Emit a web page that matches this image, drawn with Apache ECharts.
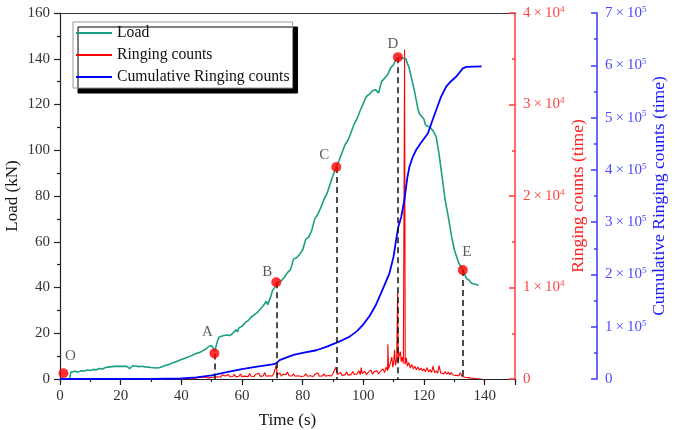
<!DOCTYPE html>
<html>
<head>
<meta charset="utf-8">
<script src="https://cdn.jsdelivr.net/npm/echarts@6/dist/echarts.min.js"></script>
<style>
html,body{margin:0;padding:0;background:#fff;}
#c{width:676px;height:430px;}
</style>
</head>
<body>
<div id="c"></div>
<script>
// ---------- DATA ----------
const loadTime = [3.2,3.6,4,5,6,7,8,9,10,11,12,13,14,15,16,16.5,17,18,19,20,21,22,23,23.5,24,25,26,27,28,29,30,31,32,33,34,35,36,37,38,39,40,41,42,43,44,45,46,47,47.5,48,49,49.5,50,50.5,51,51.6,52,52.5,53,54,55,56,57,58,58.5,59,60,61,62,62.5,63,64,65,66,67,68,68.5,69,69.5,70,71,71.5,72,73,74,74.5,75,76,76.5,77,78,79,80,80.5,81,82,83,84,85,86,87,88,89,90,91,92,93,94,95,96,97,98,99,100,101,102,103,104,105,106,107,108,109,110,110.5,111,112,113,114,114.5,115,116,117,118,118.5,119,120,120.5,121,122,123,124,125,126,127,128,129,130,131,131.5,132,132.8,133.5,134,135,135.5,136,136.5,137,138];
const loadKN = [0.5,3.0,3.2,3.4,3.0,3.6,3.5,3.9,3.7,4.2,4.0,4.6,4.4,5.0,5.2,4.6,5.4,5.5,5.6,5.5,5.6,5.5,4.6,5.4,5.8,5.7,5.4,5.6,5.3,5.2,5.0,4.9,4.8,5.0,5.6,6.0,6.4,7.0,7.4,8.0,8.5,9.0,9.5,10.0,10.6,11.2,11.6,12.3,11.8,13.0,14.2,13.6,14.6,13.5,12.2,12.8,17.0,18.4,18.0,19.0,19.2,19.0,20.0,21.5,20.6,22.4,23.0,24.5,25.5,25.0,27.0,28.0,29.0,30.5,32.0,34.0,32.5,32.3,36.0,38.5,40.5,42.0,41.8,43.0,44.5,44.3,46.5,47.8,47.5,52.5,53.0,54.5,56.5,56.5,61.0,62.0,65.0,70.0,72.0,75.0,78.5,81.0,85.0,89.0,92.5,95.5,99.0,102.5,104.5,108.0,111.5,114.0,117.5,120.5,123.5,124.5,126.0,126.5,125.0,130.0,131.5,133.0,136.0,137.5,139.0,140.2,140.5,140.3,140.0,138.0,136.5,131.0,125.0,118.0,116.0,115.5,113.5,111.0,110.5,110.0,108.5,106.0,98.0,88.0,78.0,71.0,63.0,56.5,52.5,50.5,49.5,47.6,45.5,44.0,43.0,42.0,42.6,41.5,41.2,41.0];

const ringTime = [0,40,42,43,44,44.5,45,45.5,46,46.5,47,47.5,48,48.5,49,49.5,50,50.5,51,51.5,52,52.5,53,53.5,54,54.5,55,55.5,56,56.5,57,57.5,58,58.5,59,59.5,60,60.5,61,61.5,62,62.5,63,63.5,64,64.5,65,65.5,66,66.5,67,67.5,68,68.5,69,69.5,70,70.5,71,71.3,71.6,72,72.5,73,73.5,74,74.5,75,75.5,76,76.5,77,77.5,78,78.5,79,79.5,80,80.5,81,81.5,82,82.5,83,83.5,84,84.5,85,85.5,86,86.5,87,87.5,88,88.5,89,89.5,90,90.5,91,91.4,92,92.5,93,93.5,94,94.5,95,95.5,96,96.5,97,97.5,98,98.5,99,99.3,99.6,100,100.5,101,101.5,102,102.5,103,103.5,104,104.5,105,105.5,106,106.5,107,107.5,108,108.1,108.3,108.8,109.4,109.7,110,110.3,110.6,111,111.3,111.5,111.8,112.2,112.5,112.8,113.2,113.6,113.8,114.2,114.5,115,115.5,116,116.5,117,117.5,118,118.5,119,119.5,120,120.5,121,121.5,122,122.5,123,123.5,124,124.5,125,125.5,126,126.5,127,127.5,128,128.5,129,129.5,130,130.5,131,131.5,132,132.5,133,133.5,134,134.5,135,135.5,136,137,138,139];
const ringCounts = [0,0,30,0,60,20,120,40,180,60,220,90,160,260,120,300,180,350,220,420,250,380,200,450,260,330,210,480,240,360,280,520,230,400,300,550,260,420,310,480,250,600,300,430,280,500,330,620,290,460,340,700,300,480,360,550,320,600,500,1550,450,380,650,300,520,380,480,760,350,500,320,580,300,450,350,520,280,440,330,560,300,480,350,420,280,520,400,650,300,480,340,560,310,460,380,520,330,600,450,1300,500,420,700,380,560,450,780,420,600,480,820,500,650,560,900,480,1250,600,520,850,480,700,560,1000,520,780,600,900,540,800,620,1100,700,1300,900,3800,1100,1600,2400,1300,1800,3200,1500,2200,9400,1800,2600,3000,1900,2400,1700,36000,1600,2300,1400,1800,1200,1600,1100,1400,1000,1300,950,1200,880,1100,800,1250,760,1000,700,1400,680,900,620,1450,650,850,560,800,520,760,480,700,440,620,400,560,360,700,300,250,200,180,150,120,100,80,50,20,0];

const cumTime = [0,30,40,45,50,55,60,65,70,71.3,72.4,75,77,80,84.5,88,91,93,95.5,98,99.8,102,104,105.3,107,108.6,110,110.8,111.5,112.5,113.6,114.5,115.2,116.3,117.4,119,121.3,122.5,124,125.5,127.3,129,130.6,132.8,134,139];
const cumCounts = [0,0,1000,3000,7000,13000,19000,23500,28000,30000,36000,42000,46000,50000,55000,62000,69000,74000,81000,92000,103000,120000,140000,157000,180000,202000,235000,266000,290000,310000,345000,385000,406000,425000,438000,452000,470000,490000,514000,538000,559000,570000,578000,594000,597000,598000];

const markerNames = ['O','A','B','C','D','E'];
const markerTime = [1.15,50.9,71.3,91.1,111.4,132.8];
const markerLoad = [2.5,11.2,42.3,92.7,140.7,47.6];

const xTicks = {min:0, max:150, interval:20};
const loadTicks = {min:0, max:160, interval:20};
const ringTicks = {min:0, max:40000, interval:10000};
const cumTicks = {min:0, max:700000, interval:100000};

// ---------- STYLE ----------
const FONT = 'Liberation Serif, Times New Roman, serif';
const labelOffsets = [[7,-17],[-7,-21],[-9,-10],[-12,-12],[-5,-13],[4,-18]];
const C_LOAD = '#1b9e83', C_RING = '#ff0000', C_CUM = '#0000ff';
const C_RAX = '#ff3b3b', C_BAX = '#3b3bff';

const zip = (a,b) => a.map((v,i)=>[v,b[i]]);

const chart = echarts.init(document.getElementById('c'), null, {renderer:'canvas'});

const supRich = (col) => ({
  b:{fontSize:15, fontFamily:FONT, color:col, lineHeight:16},
  s:{fontSize:9, fontFamily:FONT, color:col, verticalAlign:'top', lineHeight:16, padding:[0,0,10,0]}
});

const markerData = markerNames.map((n,i)=>({
  value:[markerTime[i], markerLoad[i]],
  name:n,
  label:{show:true, position:'inside', offset:labelOffsets[i], formatter:n,
         fontSize:15, fontFamily:FONT, color:'#333'}
}));

const dashData = markerNames.slice(1).map((n,k)=>{
  const i = k+1;
  return [{coord:[markerTime[i], markerLoad[i]]},{coord:[markerTime[i], 0]}];
});

const option = {
  animation:false,
  backgroundColor:'#fff',
  grid:{left:60, right:161, top:13, bottom:51, containLabel:false, outerBoundsMode:'none'},
  legend:{
    data:['Load','Ringing counts','Cumulative Ringing counts'],
    orient:'vertical', left:73, top:22,
    itemWidth:36, itemHeight:14, itemGap:6,
    padding:[3,3,3,2],
    backgroundColor:'#fff', borderColor:'#999', borderWidth:1,
    shadowColor:'#000', shadowBlur:0, shadowOffsetX:5, shadowOffsetY:5,
    itemStyle:{opacity:0},
    lineStyle:{width:2},
    textStyle:{fontSize:15.7, fontFamily:FONT, color:'#111', padding:[0,0,0,0]}
  },
  xAxis:[
    {type:'value', min:xTicks.min, max:xTicks.max, interval:xTicks.interval, position:'bottom',
     name:'Time (s)', nameLocation:'middle', nameGap:33, nameMoveOverlap:false,
     nameTextStyle:{fontSize:17, fontFamily:FONT, color:'#111'},
     axisLine:{show:true, onZero:false, lineStyle:{color:'#222', width:1.2}},
     axisTick:{show:true, inside:false, length:6, lineStyle:{color:'#222', width:1.2}},
     splitLine:{show:false},
     axisLabel:{margin:10, fontSize:15, fontFamily:FONT, color:'#333',
                formatter:v=> v===150 ? '' : String(v)}},
    {type:'value', min:xTicks.min, max:xTicks.max, interval:10, position:'bottom',
     axisLine:{show:false}, axisTick:{show:true, length:3, lineStyle:{color:'#222', width:1.2}},
     axisLabel:{show:false}, splitLine:{show:false}},
    {type:'value', min:xTicks.min, max:xTicks.max, position:'top',
     axisLine:{show:true, onZero:false, lineStyle:{color:'#333', width:1.2}},
     axisTick:{show:false}, axisLabel:{show:false}, splitLine:{show:false}}
  ],
  yAxis:[
    {type:'value', min:loadTicks.min, max:loadTicks.max, interval:loadTicks.interval, position:'left',
     name:'Load (kN)', nameLocation:'middle', nameGap:39, nameRotate:90, nameMoveOverlap:false,
     nameTextStyle:{fontSize:17, fontFamily:FONT, color:'#111'},
     axisLine:{show:true, onZero:false, lineStyle:{color:'#222', width:1.2}},
     axisTick:{show:true, inside:false, length:6, lineStyle:{color:'#222', width:1.2}},
     minorTick:{show:true, splitNumber:2, length:3, lineStyle:{color:'#222', width:1.2}},
     splitLine:{show:false}, minorSplitLine:{show:false},
     axisLabel:{margin:10, fontSize:15, fontFamily:FONT, color:'#333'}},
    {type:'value', min:ringTicks.min, max:ringTicks.max, interval:ringTicks.interval, position:'right', offset:0,
     name:'Ringing counts (time)', nameLocation:'middle', nameGap:54, nameRotate:90, nameMoveOverlap:false,
     nameTextStyle:{fontSize:17.5, fontFamily:FONT, color:'#ff2020'},
     axisLine:{show:true, onZero:false, lineStyle:{color:C_RAX, width:1.5}},
     axisTick:{show:true, inside:true, length:6, lineStyle:{color:C_RAX, width:1.5}},
     minorTick:{show:true, splitNumber:2, length:3, lineStyle:{color:C_RAX, width:1.5}},
     splitLine:{show:false}, minorSplitLine:{show:false},
     axisLabel:{margin:8, rich:supRich('#ff4545'), fontSize:15, fontFamily:FONT, color:'#ff4545',
       formatter:v=> v===0 ? '0' : '{b|'+(v/1e4)+'\u2009×\u200910}{s|4}'}},
    {type:'value', min:cumTicks.min, max:cumTicks.max, interval:cumTicks.interval, position:'right', offset:82,
     name:'Cumulative Ringing counts (time)', nameLocation:'middle', nameGap:53, nameRotate:90, nameMoveOverlap:false,
     nameTextStyle:{fontSize:17.5, fontFamily:FONT, color:'#1a1aff'},
     axisLine:{show:true, onZero:false, lineStyle:{color:C_BAX, width:1.5}},
     axisTick:{show:true, inside:true, length:6, lineStyle:{color:C_BAX, width:1.5}},
     minorTick:{show:true, splitNumber:2, length:3, lineStyle:{color:C_BAX, width:1.5}},
     splitLine:{show:false}, minorSplitLine:{show:false},
     axisLabel:{margin:8, rich:supRich('#4a4aff'), fontSize:15, fontFamily:FONT, color:'#4a4aff',
       formatter:v=> v===0 ? '0' : '{b|'+(v/1e5)+'\u2009×\u200910}{s|5}'}}
  ],
  series:[
    {name:'Load', type:'line', xAxisIndex:0, yAxisIndex:0, data:zip(loadTime, loadKN),
     symbol:'none', showSymbol:false, lineStyle:{color:C_LOAD, width:1.6}, itemStyle:{color:C_LOAD}, z:3},
    {name:'Ringing counts', type:'line', xAxisIndex:0, yAxisIndex:1, data:zip(ringTime, ringCounts),
     symbol:'none', showSymbol:false, lineStyle:{color:C_RING, width:1.1}, itemStyle:{color:C_RING}, z:2},
    {name:'Cumulative Ringing counts', type:'line', xAxisIndex:0, yAxisIndex:2, data:zip(cumTime, cumCounts),
     symbol:'none', showSymbol:false, lineStyle:{color:C_CUM, width:1.8}, itemStyle:{color:C_CUM}, z:4},
    {name:'markers', type:'scatter', xAxisIndex:0, yAxisIndex:0, data:markerData,
     symbol:'circle', symbolSize:10, itemStyle:{color:'#ff0000'}, z:6,
     markLine:{silent:true, symbol:'none', label:{show:false},
       lineStyle:{color:'#111', type:[6,4], width:1.5},
       data:dashData}}
  ]
};
chart.setOption(option);
</script>
</body>
</html>
